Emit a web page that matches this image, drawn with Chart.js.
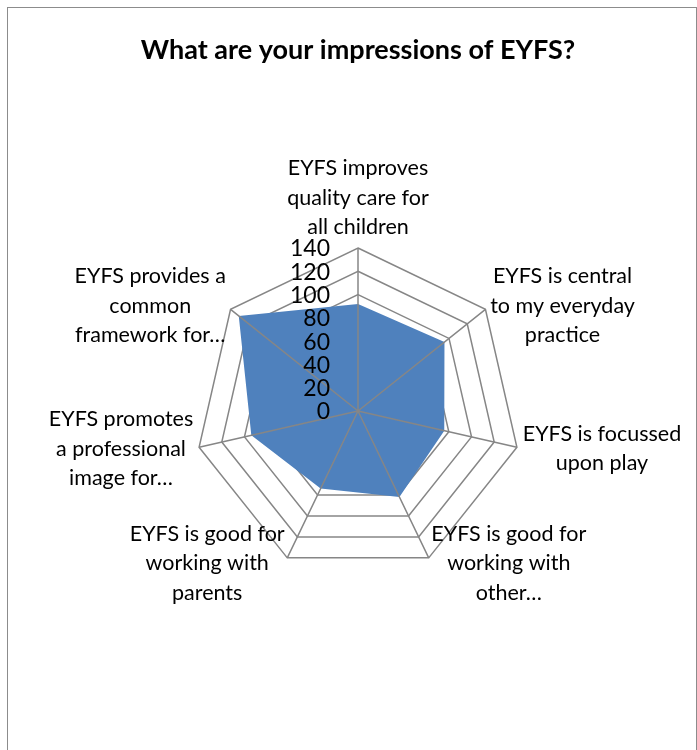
<!DOCTYPE html>
<html>
<head>
<meta charset="utf-8">
<script src="https://cdn.jsdelivr.net/npm/chart.js@4.4.0/dist/chart.umd.min.js"></script>
<style>
  html, body { margin: 0; padding: 0; background: #fff; overflow: hidden; }
  #frame { position: absolute; left: 7px; top: 7px; width: 688px; height: 800px; border: 1px solid #8c8c8c; }
  #wrap { position: absolute; left: 0; top: 0; width: 697px; height: 750px; }
</style>
</head>
<body>
<div id="frame"></div>
<div id="wrap"><canvas id="radar" width="697" height="750"></canvas></div>
<script>
const titleText = 'What are your impressions of EYFS?';

// each category is split into the lines it is printed on
const categories = [
  ['EYFS improves', 'quality care for', 'all children'],
  ['EYFS is central', 'to my everyday', 'practice'],
  ['EYFS is focussed', 'upon play'],
  ['EYFS is good for', 'working with', 'other…'],
  ['EYFS is good for', 'working with', 'parents'],
  ['EYFS promotes', 'a professional', 'image for…'],
  ['EYFS provides a', 'common', 'framework for…']
];
const responses = [92, 95, 76, 82, 74, 94, 131];

const scaleMin = 0;
const scaleMax = 140;
const scaleStep = 20;

const FONT = 'Lato, "Open Sans", sans-serif';
const LABEL_SIZE = 21.5;
const TICK_SIZE = 23;
const LINE_H = 29.5;
const GRID = '#868686';

// spokes go on top of the filled area
const spokes = {
  id: 'spokes',
  afterDatasetsDraw(chart) {
    const r = chart.scales.r;
    const ctx = chart.ctx;
    const len = r.getDistanceFromCenterForValue(scaleMax);
    ctx.save();
    ctx.strokeStyle = GRID;
    ctx.lineWidth = 1.5;
    ctx.beginPath();
    for (let i = 0; i < chart.data.labels.length; i++) {
      const p = r.getPointPosition(i, len);
      ctx.moveTo(r.xCenter, r.yCenter);
      ctx.lineTo(p.x, p.y);
    }
    ctx.stroke();
    ctx.restore();
  }
};

// tick numbers sit to the left of the vertical spoke
const tickText = {
  id: 'tickText',
  afterDatasetsDraw(chart) {
    const r = chart.scales.r;
    const ctx = chart.ctx;
    ctx.save();
    ctx.font = TICK_SIZE + 'px ' + FONT;
    ctx.fillStyle = '#000';
    ctx.textAlign = 'right';
    ctx.textBaseline = 'middle';
    r.ticks.forEach(t => {
      const y = r.yCenter - r.getDistanceFromCenterForValue(t.value);
      ctx.fillText(String(t.value), r.xCenter - 28, y + 1);
    });
    ctx.restore();
  }
};

// category labels, lines centred inside each block
const categoryText = {
  id: 'categoryText',
  afterDraw(chart) {
    const r = chart.scales.r;
    const ctx = chart.ctx;
    ctx.save();
    ctx.font = LABEL_SIZE + 'px ' + FONT;
    ctx.fillStyle = '#000';
    ctx.textAlign = 'center';
    ctx.textBaseline = 'middle';
    chart.data.labels.forEach((lines, i) => {
      const p = r.getPointPosition(i, r.drawingArea + 6);
      const w = Math.max(...lines.map(l => ctx.measureText(l).width));
      const h = lines.length * LINE_H;
      let cx, top;
      if (Math.abs(p.x - r.xCenter) < 2) {
        cx = p.x;
        top = p.y < r.yCenter ? p.y - h : p.y;
      } else {
        cx = p.x > r.xCenter ? p.x + w / 2 : p.x - w / 2;
        top = p.y - h / 2;
      }
      lines.forEach((l, k) => ctx.fillText(l, cx, top + LINE_H * (k + 0.5)));
    });
    ctx.restore();
  }
};

new Chart(document.getElementById('radar'), {
  type: 'radar',
  data: {
    labels: categories,
    datasets: [{
      label: 'Responses',
      data: responses,
      fill: true,
      backgroundColor: '#4F81BD',
      borderColor: '#4F81BD',
      borderWidth: 0,
      pointRadius: 0,
      pointHoverRadius: 0
    }]
  },
  options: {
    responsive: false,
    animation: false,
    layout: { padding: { left: 30, right: 11, top: 32, bottom: 175 } },
    plugins: {
      legend: { display: false },
      tooltip: { enabled: false },
      title: {
        display: true,
        text: titleText,
        color: '#000',
        font: { family: FONT, size: 27, weight: 'bold' },
        padding: { top: 2, bottom: 182 }
      }
    },
    scales: {
      r: {
        min: scaleMin,
        max: scaleMax,
        ticks: { display: false, stepSize: scaleStep },
        pointLabels: { display: false },
        angleLines: { display: false },
        grid: { color: GRID, lineWidth: 1.5 }
      }
    }
  },
  plugins: [spokes, tickText, categoryText]
});
</script>
</body>
</html>
